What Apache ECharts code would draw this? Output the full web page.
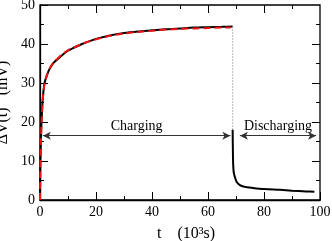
<!DOCTYPE html>
<html><head><meta charset="utf-8">
<script src="https://cdn.jsdelivr.net/npm/echarts@6/dist/echarts.min.js"></script>
<style>html,body{margin:0;padding:0;background:#fff}#c{width:332px;height:241px}</style>
</head><body><div id="c"></div>
<script>
// charging measurement (t in 10^3 s, ΔV in mV)
const chargeT = [0, 0.1, 0.3, 0.6, 1, 1.5, 2, 3, 4, 5, 6.5, 8, 10, 12, 15, 18, 21, 25, 30, 35, 40, 45, 50, 55, 60, 65, 68.8];
const chargeV = [0, 8, 15, 21, 26, 29.5, 31, 33, 34.3, 35.3, 36.2, 37.2, 38.3, 39.0, 40.0, 40.8, 41.5, 42.2, 42.8, 43.2, 43.5, 43.8, 44.0, 44.2, 44.3, 44.4, 44.5];
// fit (red dashed)
const fitT = [0, 0.1, 0.3, 0.6, 1, 1.5, 2, 3, 4, 5, 6.5, 8, 10, 12, 15, 18, 21, 25, 30, 35, 40, 45, 50, 55, 60, 65, 68];
const fitV = [0, 7, 14, 20.5, 25.8, 29.2, 30.9, 33, 34.4, 35.4, 36.4, 37.4, 38.4, 39.1, 40.0, 40.8, 41.4, 42.1, 42.7, 43.1, 43.4, 43.7, 43.9, 44.0, 44.1, 44.2, 44.2];
// switch-off drop (sparse points)
const dropT = [68.8, 68.8];
const dropV = [44.5, 18];
// discharging
const disT = [68.8, 68.9, 69.0, 69.2, 69.6, 70.2, 71.4, 73, 76, 80, 85.7, 90, 95, 98];
const disV = [18, 12, 9, 7, 5.9, 4.7, 3.8, 3.4, 3.1, 2.8, 2.6, 2.4, 2.2, 2.1];
// annotation arrows [start t, end t, level]
const chargeArrow = [1, 68, 16.5];
const dischargeArrow = [71.4, 98.6, 16.5];
const xTicks = [0, 20, 40, 60, 80, 100];
const xMinorTicks = [10, 30, 50, 70, 90];
const yTicks = [0, 10, 20, 30, 40, 50];
const yMinorTicks = [5, 15, 25, 35, 45];

const zip = (a, b) => a.map((v, i) => [v, b[i]]);
const font = 'Liberation Serif';
const xMin = xTicks[0], xMax = xTicks[xTicks.length - 1];
const yMin = yTicks[0], yMax = yTicks[yTicks.length - 1];
const grid = {left: 40, right: 12, top: 5, bottom: 41};
const W = 332, H = 241;
// tick length in data units (8px major, 4px minor) for the mirrored top/right ticks
const pxX = (xMax - xMin) / (W - grid.left - grid.right);
const pxY = (yMax - yMin) / (H - grid.top - grid.bottom);
const mirrorTicks = [];
xTicks.slice(1, -1).forEach(t => mirrorTicks.push([{coord: [t, yMax - 0.01]}, {coord: [t, yMax - 8 * pxY]}]));
xMinorTicks.forEach(t => mirrorTicks.push([{coord: [t, yMax - 0.01]}, {coord: [t, yMax - 4 * pxY]}]));
yTicks.slice(1, -1).forEach(v => mirrorTicks.push([{coord: [xMax - 0.01, v]}, {coord: [xMax - 8 * pxX, v]}]));
yMinorTicks.forEach(v => mirrorTicks.push([{coord: [xMax - 0.01, v]}, {coord: [xMax - 4 * pxX, v]}]));

function axis(mn, mx, iv, extra) {
  return Object.assign({type: 'value', min: mn, max: mx, interval: iv,
    axisLine: {show: true, lineStyle: {color: '#000', width: 1.3}},
    axisTick: {show: true, inside: true, length: 8, lineStyle: {color: '#000', width: 1}},
    minorTick: {show: true, splitNumber: 2, length: 4, lineStyle: {color: '#000', width: 1}},
    splitLine: {show: false},
    axisLabel: {fontFamily: font, fontSize: 14, color: '#000', margin: 5}}, extra);
}

const chart = echarts.init(document.getElementById('c'));
chart.setOption({
  animation: false,
  grid: Object.assign({outerBoundsMode: 'none', show: true, borderColor: '#000', borderWidth: 1.3}, grid),
  xAxis: axis(xMin, xMax, 20, {
    name: '   t    (10³s)', nameLocation: 'middle', nameGap: 26,
    nameTextStyle: {color: '#000', fontFamily: font, fontSize: 16}
  }),
  yAxis: axis(yMin, yMax, 10, {
    name: 'ΔV(t)   (mV)', nameLocation: 'middle', nameGap: 29, nameMoveOverlap: false,
    nameTextStyle: {color: '#000', fontFamily: font, fontSize: 16}
  }),
  series: [
    {type: 'line', data: zip(chargeT, chargeV), showSymbol: false, smooth: 0.3,
      lineStyle: {color: '#000', width: 2}, z: 2,
      markLine: {silent: true, symbol: 'none',
        lineStyle: {color: '#000', width: 1, type: 'solid'}, label: {show: false},
        data: mirrorTicks}},
    {type: 'line', data: zip(fitT, fitV), showSymbol: false, smooth: 0.3,
      lineStyle: {color: '#ee1111', width: 2, type: [7, 4]}, z: 3},
    {type: 'line', data: zip(dropT, dropV), showSymbol: false,
      lineStyle: {color: '#888', width: 1.2, type: [1, 2]}, z: 2},
    {type: 'line', data: zip(disT, disV), showSymbol: false, smooth: 0.3,
      lineStyle: {color: '#000', width: 2}, z: 2,
      markLine: {
        silent: true, symbol: ['arrow', 'arrow'], symbolSize: [6, 8],
        lineStyle: {color: '#333', width: 1, type: 'solid'},
        label: {show: true, position: 'middle', distance: 2, formatter: '{b}', color: '#000', fontFamily: font, fontSize: 14},
        data: [
          [{coord: [chargeArrow[0], chargeArrow[2]], name: 'Charging'}, {coord: [chargeArrow[1], chargeArrow[2]]}],
          [{coord: [dischargeArrow[0], dischargeArrow[2]], name: 'Discharging'}, {coord: [dischargeArrow[1], dischargeArrow[2]]}]
        ]
      }}
  ]
});
</script></body></html>
